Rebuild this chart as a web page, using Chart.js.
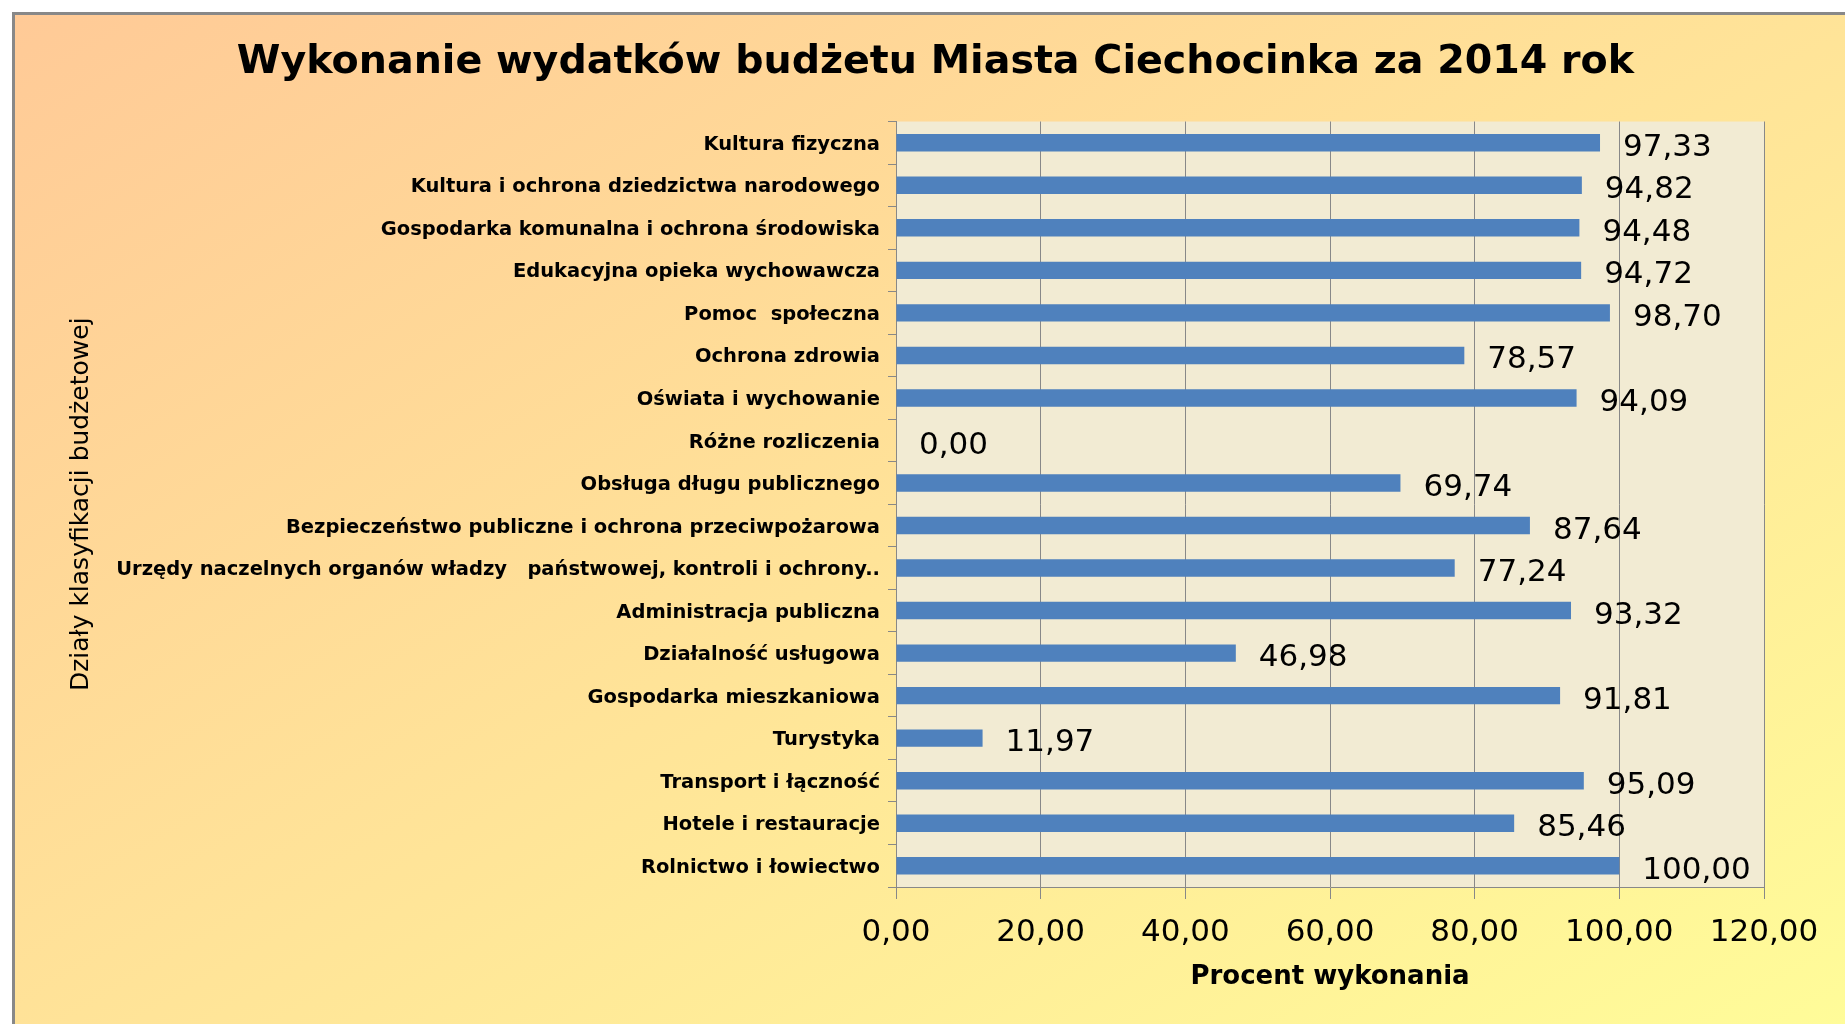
<!DOCTYPE html>
<html lang="pl">
<head>
<meta charset="utf-8">
<title>Wykonanie wydatków budżetu Miasta Ciechocinka za 2014 rok</title>
<script src="https://cdn.jsdelivr.net/npm/chart.js@4.4.1/dist/chart.umd.min.js"></script>
<style>
  html, body { margin: 0; padding: 0; background: #fff; overflow: hidden; }
  #frame {
    position: absolute; left: 12px; top: 12px; width: 1900px; height: 1100px;
    border-left: 3px solid #888; border-top: 3px solid #888;
    background: linear-gradient(to bottom right, #FFCA97, #FFFF99);
  }
  #chart { position: absolute; left: 0; top: 0; }
</style>
</head>
<body>
<div id="frame"></div>
<canvas id="chart" width="1845" height="1024"></canvas>
<script>
const categories = [
  'Kultura fizyczna',
  'Kultura i ochrona dziedzictwa narodowego',
  'Gospodarka komunalna i ochrona środowiska',
  'Edukacyjna opieka wychowawcza',
  'Pomoc  społeczna',
  'Ochrona zdrowia',
  'Oświata i wychowanie',
  'Różne rozliczenia',
  'Obsługa długu publicznego',
  'Bezpieczeństwo publiczne i ochrona przeciwpożarowa',
  'Urzędy naczelnych organów władzy   państwowej, kontroli i ochrony..',
  'Administracja publiczna',
  'Działalność usługowa',
  'Gospodarka mieszkaniowa',
  'Turystyka',
  'Transport i łączność',
  'Hotele i restauracje',
  'Rolnictwo i łowiectwo'
];

const percentDone = [
  97.33, 94.82, 94.48, 94.72, 98.70, 78.57, 94.09, 0.00, 69.74,
  87.64, 77.24, 93.32, 46.98, 91.81, 11.97, 95.09, 85.46, 100.00
];

const axisMin = 0;
const axisMax = 120;
const axisStep = 20;

const fmt = (v) => Number(v).toFixed(2).replace('.', ',');

// beige fill behind the bars
const plotBg = {
  id: 'plotBg',
  beforeDraw(chart) {
    const {ctx, chartArea: a} = chart;
    ctx.save();
    ctx.fillStyle = '#F2EBD3';
    ctx.fillRect(a.left, a.top, a.right - a.left, a.bottom - a.top);
    ctx.restore();
  }
};

// value written to the right of each bar
const valueLabels = {
  id: 'valueLabels',
  afterDatasetsDraw(chart) {
    const ctx = chart.ctx;
    ctx.save();
    ctx.font = '31px "DejaVu Sans"';
    ctx.fillStyle = '#000';
    ctx.textAlign = 'left';
    ctx.textBaseline = 'middle';
    chart.getDatasetMeta(0).data.forEach((bar, i) => {
      ctx.fillText(fmt(percentDone[i]), bar.x + 23, bar.y + 5);
    });
    ctx.restore();
  }
};

new Chart(document.getElementById('chart'), {
  type: 'bar',
  data: {
    labels: categories,
    datasets: [{
      data: percentDone,
      backgroundColor: '#4F81BD',
      borderWidth: 0,
      barPercentage: 0.41,
      categoryPercentage: 1
    }]
  },
  options: {
    indexAxis: 'y',
    responsive: false,
    animation: false,
    devicePixelRatio: 1,
    layout: { padding: { left: 26, right: 0, top: 0, bottom: 0 } },
    plugins: {
      legend: { display: false },
      tooltip: { enabled: false },
      title: {
        display: true,
        text: 'Wykonanie wydatków budżetu Miasta Ciechocinka za 2014 rok',
        color: '#000',
        font: { family: 'DejaVu Sans', size: 39.6, weight: 'bold' },
        padding: { top: 39, bottom: 35 }
      }
    },
    scales: {
      x: {
        min: axisMin,
        max: axisMax,
        ticks: {
          stepSize: axisStep,
          color: '#000',
          padding: 15,
          font: { family: 'DejaVu Sans', size: 31 },
          callback: (v) => fmt(v)
        },
        grid: { color: '#888', tickLength: 12 },
        border: { color: '#888' },
        title: {
          display: true,
          text: 'Procent wykonania',
          color: '#000',
          font: { family: 'DejaVu Sans', size: 26, weight: 'bold' },
          padding: { top: 0, bottom: 31 }
        },
        afterFit(s) { s.height = 137; }
      },
      y: {
        ticks: {
          color: '#000',
          padding: 8,
          labelOffset: 2,
          autoSkip: false,
          font: { family: 'DejaVu Sans', size: 19.5, weight: 'bold', lineHeight: 1.0 }
        },
        grid: { color: '#888', drawOnChartArea: false, tickLength: 8 },
        border: { color: '#888' },
        title: {
          display: true,
          text: 'Działy klasyfikacji budżetowej',
          color: '#000',
          font: { family: 'DejaVu Sans', size: 25 },
          padding: { top: 40, bottom: 0 }
        },
        afterFit(s) { s.width = 870; }
      },
      y2: {
        type: 'linear',
        position: 'right',
        display: true,
        ticks: { display: false },
        grid: { display: false },
        border: { display: false },
        afterFit(s) { s.width = 81; }
      }
    }
  },
  plugins: [plotBg, valueLabels]
});
</script>
</body>
</html>
